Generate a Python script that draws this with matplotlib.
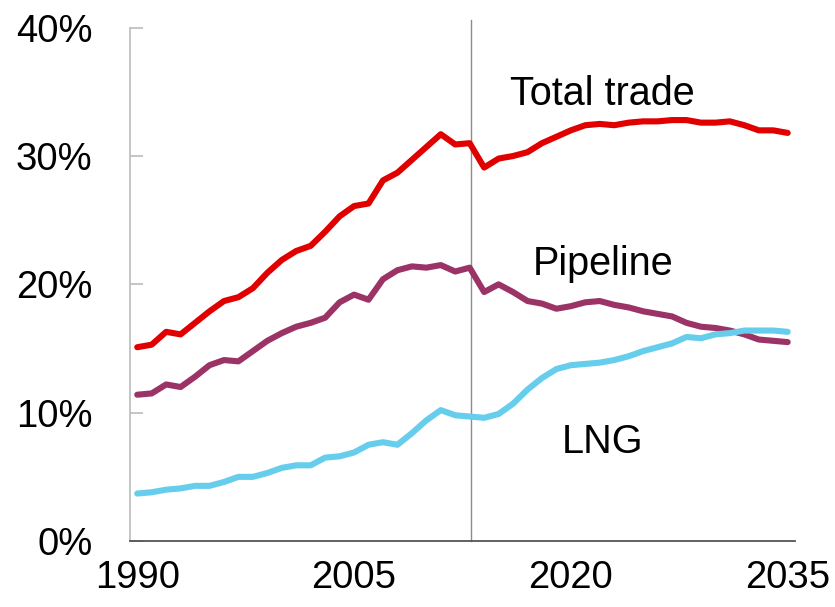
import matplotlib
matplotlib.use('Agg')
import matplotlib.pyplot as plt
from matplotlib.ticker import FuncFormatter

plt.rcParams['font.family'] = ['Liberation Sans', 'DejaVu Sans']

years = list(range(1990, 2036))

# share of world gas demand, %
total_trade = [15.1, 15.3, 16.3, 16.1, 17.0, 17.9, 18.7, 19.0, 19.7, 20.9,
               21.9, 22.6, 23.0, 24.1, 25.3, 26.1, 26.3, 28.1, 28.7, 29.7,
               30.7, 31.7, 30.9, 31.0, 29.1, 29.8, 30.0, 30.3, 31.0, 31.5,
               32.0, 32.4, 32.5, 32.4, 32.6, 32.7, 32.7, 32.8, 32.8, 32.6,
               32.6, 32.7, 32.4, 32.0, 32.0, 31.8]
pipeline = [11.4, 11.5, 12.2, 12.0, 12.8, 13.7, 14.1, 14.0, 14.8, 15.6,
            16.2, 16.7, 17.0, 17.4, 18.6, 19.2, 18.8, 20.4, 21.1, 21.4,
            21.3, 21.5, 21.0, 21.3, 19.4, 20.0, 19.4, 18.7, 18.5, 18.1,
            18.3, 18.6, 18.7, 18.4, 18.2, 17.9, 17.7, 17.5, 17.0, 16.7,
            16.6, 16.4, 16.1, 15.7, 15.6, 15.5]
lng = [3.7, 3.8, 4.0, 4.1, 4.3, 4.3, 4.6, 5.0, 5.0, 5.3,
       5.7, 5.9, 5.9, 6.5, 6.6, 6.9, 7.5, 7.7, 7.5, 8.4,
       9.4, 10.2, 9.8, 9.7, 9.6, 9.9, 10.7, 11.8, 12.7, 13.4,
       13.7, 13.8, 13.9, 14.1, 14.4, 14.8, 15.1, 15.4, 15.9, 15.8,
       16.1, 16.2, 16.4, 16.4, 16.4, 16.3]

series = [
    ('Total trade', total_trade, '#e00000', 2022.2, 34.8),
    ('Pipeline', pipeline, '#9b3366', 2022.2, 21.6),
    ('LNG', lng, '#66cdec', 2022.2, 7.7),
]
projection_start = 2013.1

fig = plt.figure(figsize=(8.35, 6.07), dpi=100)
ax = fig.add_axes([0.1557, 0.1087, 0.7963, 0.8457])

for name, vals, color, tx, ty in series:
    ax.plot(years, vals, color=color, lw=4.4, solid_capstyle='round',
            solid_joinstyle='round')
    ax.text(tx, ty, name, fontsize=28.5, ha='center', va='center')

ax.axvline(projection_start, ymin=0, ymax=1.015, color='#8c8c8c', lw=1.0,
           clip_on=False, zorder=0)

ax.set_xlim(1989.5, 2035.5)
ax.set_ylim(0, 40)
ax.set_xticks([1990, 2005, 2020, 2035])
ax.set_yticks([0, 10, 20, 30, 40])
ax.yaxis.set_major_formatter(FuncFormatter(lambda v, p: f'{v:.0f}%'))

for s in ['top', 'right']:
    ax.spines[s].set_visible(False)
ax.spines['left'].set_color('#c0c0c0')
ax.spines['left'].set_linewidth(1.3)
ax.spines['bottom'].set_color('#555555')
ax.spines['bottom'].set_linewidth(1.3)

ax.tick_params(axis='y', direction='in', length=9, width=1.3,
               color='#c0c0c0', labelsize=27.5, pad=27)
ax.tick_params(axis='x', length=0, labelsize=27.5, pad=14)

fig.savefig('out.png', dpi=100)
